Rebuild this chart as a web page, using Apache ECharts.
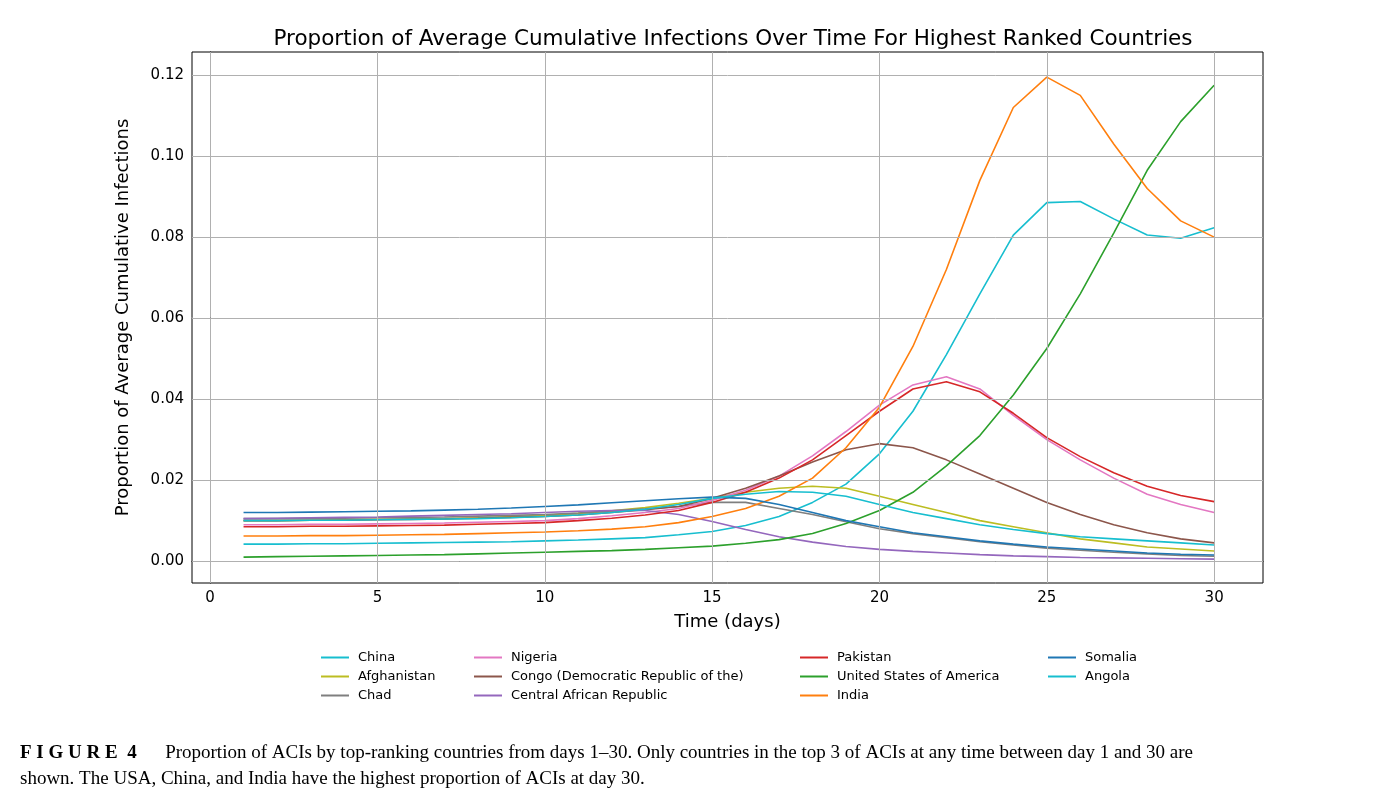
<!DOCTYPE html>
<html>
<head>
<meta charset="utf-8">
<title>ACI proportion</title>
<script src="https://cdn.jsdelivr.net/npm/echarts@6/dist/echarts.min.js"></script>
<style>
html, body { margin:0; height:100%; background:#fff; overflow:hidden; }
#main { width:1386px; height:798px; }
</style>
</head>
<body>
<div id="main"></div>
<script>
var days = [];
for (var d = 1; d <= 30; d++) days.push(d);

var china       = [0.0042,0.0042,0.0043,0.0043,0.0044,0.0045,0.0046,0.0047,0.0048,0.0050,0.0052,0.0055,0.0058,0.0065,0.0073,0.0088,0.0110,0.0145,0.0190,0.0265,0.0370,0.0510,0.0660,0.0805,0.0885,0.0888,0.0845,0.0805,0.0797,0.0823];
var afghanistan = [0.0100,0.0100,0.0101,0.0102,0.0103,0.0104,0.0105,0.0107,0.0110,0.0113,0.0118,0.0124,0.0132,0.0143,0.0155,0.0170,0.0180,0.0185,0.0180,0.0160,0.0140,0.0120,0.0100,0.0085,0.0070,0.0055,0.0045,0.0035,0.0030,0.0025];
var chad        = [0.0105,0.0105,0.0106,0.0106,0.0107,0.0108,0.0109,0.0111,0.0113,0.0115,0.0119,0.0124,0.0129,0.0135,0.0145,0.0145,0.0130,0.0115,0.0097,0.0080,0.0068,0.0058,0.0048,0.0040,0.0032,0.0027,0.0022,0.0018,0.0014,0.0012];
var nigeria     = [0.0090,0.0090,0.0091,0.0091,0.0092,0.0093,0.0094,0.0096,0.0098,0.0100,0.0105,0.0112,0.0120,0.0130,0.0150,0.0175,0.0210,0.0260,0.0320,0.0385,0.0435,0.0455,0.0425,0.0360,0.0300,0.0250,0.0205,0.0165,0.0140,0.0120];
var congo       = [0.0100,0.0100,0.0101,0.0101,0.0102,0.0103,0.0104,0.0106,0.0108,0.0110,0.0114,0.0120,0.0127,0.0135,0.0155,0.0180,0.0210,0.0245,0.0275,0.0290,0.0280,0.0250,0.0215,0.0180,0.0145,0.0115,0.0090,0.0070,0.0055,0.0045];
var car         = [0.0105,0.0106,0.0107,0.0108,0.0109,0.0111,0.0113,0.0115,0.0117,0.0120,0.0123,0.0125,0.0125,0.0115,0.0098,0.0078,0.0060,0.0047,0.0036,0.0029,0.0024,0.0020,0.0016,0.0013,0.0011,0.0009,0.0008,0.0007,0.0006,0.0005];
var pakistan    = [0.0085,0.0085,0.0086,0.0086,0.0087,0.0088,0.0089,0.0091,0.0093,0.0095,0.0100,0.0106,0.0114,0.0125,0.0145,0.0170,0.0205,0.0250,0.0310,0.0370,0.0425,0.0443,0.0418,0.0365,0.0305,0.0258,0.0218,0.0185,0.0162,0.0147];
var usa         = [0.0010,0.0011,0.0012,0.0013,0.0014,0.0015,0.0016,0.0018,0.0020,0.0022,0.0024,0.0026,0.0029,0.0033,0.0037,0.0044,0.0053,0.0068,0.0093,0.0125,0.0170,0.0235,0.0310,0.0410,0.0525,0.0660,0.0810,0.0965,0.1085,0.1175];
var india       = [0.0062,0.0062,0.0063,0.0063,0.0064,0.0065,0.0066,0.0068,0.0070,0.0072,0.0075,0.0079,0.0085,0.0095,0.0110,0.0130,0.0160,0.0205,0.0280,0.0380,0.0530,0.0720,0.0940,0.1120,0.1195,0.1150,0.1030,0.0920,0.0840,0.0800];
var somalia     = [0.0120,0.0120,0.0121,0.0122,0.0123,0.0124,0.0126,0.0128,0.0131,0.0135,0.0139,0.0144,0.0149,0.0154,0.0158,0.0155,0.0140,0.0120,0.0100,0.0085,0.0070,0.0060,0.0050,0.0042,0.0035,0.0030,0.0025,0.0020,0.0017,0.0015];
var angola      = [0.0100,0.0100,0.0101,0.0101,0.0102,0.0103,0.0104,0.0105,0.0107,0.0110,0.0114,0.0120,0.0128,0.0140,0.0155,0.0165,0.0172,0.0170,0.0160,0.0140,0.0120,0.0105,0.0090,0.0078,0.0068,0.0060,0.0055,0.0050,0.0045,0.0040];

var xTicks = [0, 5, 10, 15, 20, 25, 30];
var yTicks = [0, 0.02, 0.04, 0.06, 0.08, 0.10, 0.12];

var countries = [
  ['China', china, '#17becf'],
  ['Afghanistan', afghanistan, '#bcbd22'],
  ['Chad', chad, '#7f7f7f'],
  ['Nigeria', nigeria, '#e377c2'],
  ['Congo (Democratic Republic of the)', congo, '#8c564b'],
  ['Central African Republic', car, '#9467bd'],
  ['Pakistan', pakistan, '#d62728'],
  ['United States of America', usa, '#2ca02c'],
  ['India', india, '#ff7f0e'],
  ['Somalia', somalia, '#1f77b4'],
  ['Angola', angola, '#17becf']
];

var series = [{
  type: 'line', data: [], silent: true,
  markLine: {
    symbol: 'none', silent: true, label: { show: false }, animation: false,
    lineStyle: { color: '#b0b0b0', width: 1, type: 'solid' },
    data: xTicks.map(function (v) { return { xAxis: v }; })
      .concat(yTicks.map(function (v) { return { yAxis: v }; }))
  }
}];
countries.forEach(function (c) {
  series.push({
    name: c[0], type: 'line', showSymbol: false, symbol: 'none',
    data: days.map(function (d, i) { return [d, c[1][i]]; }),
    lineStyle: { width: 1.6, color: c[2] }, itemStyle: { color: c[2] }
  });
});

function leg(names, left) {
  return {
    orient: 'vertical', left: left, top: 646, itemGap: 6,
    itemWidth: 28, itemHeight: 2, icon: 'rect',
    textStyle: { fontFamily: 'DejaVu Sans', fontSize: 13, color: '#000', padding: [0, 0, 0, 4] },
    data: names
  };
}

var chart = echarts.init(document.getElementById('main'));
chart.setOption({
  animation: false,
  textStyle: { fontFamily: 'DejaVu Sans' },
  title: {
    text: 'Proportion of Average Cumulative Infections Over Time For Highest Ranked Countries',
    left: 728, top: 23, textAlign: 'center',
    textStyle: { fontSize: 21.5, fontWeight: 'normal', color: '#000' }
  },
  legend: [
    leg(['China', 'Afghanistan', 'Chad'], 316),
    leg(['Nigeria', 'Congo (Democratic Republic of the)', 'Central African Republic'], 469),
    leg(['Pakistan', 'United States of America', 'India'], 795),
    leg(['Somalia', 'Angola'], 1043)
  ],
  grid: { left: 192, top: 52, width: 1071, height: 531, show: true, borderColor: '#000', borderWidth: 1 },
  xAxis: {
    type: 'value', min: -0.54, max: 31.46,
    name: 'Time (days)', nameLocation: 'middle', nameGap: 30,
    nameTextStyle: { fontSize: 18, color: '#000' },
    axisLine: { lineStyle: { color: '#000' } },
    axisTick: { customValues: xTicks, length: 5, lineStyle: { color: '#000' } },
    axisLabel: { customValues: xTicks, fontSize: 15, color: '#000', margin: 8 },
    splitLine: { show: false }
  },
  yAxis: {
    type: 'value', min: -0.0054, max: 0.1257,
    name: 'Proportion of Average Cumulative Infections', nameLocation: 'middle', nameGap: 60,
    nameTextStyle: { fontSize: 18, color: '#000' },
    axisLine: { show: true, lineStyle: { color: '#000' } },
    axisTick: { show: true, customValues: yTicks, length: 5, lineStyle: { color: '#000' } },
    axisLabel: { customValues: yTicks, fontSize: 15, color: '#000', margin: 8,
      formatter: function (v) { return v.toFixed(2); } },
    splitLine: { show: false }
  },
  graphic: [{
    type: 'text', left: 20, top: 740,
    style: {
      text: '{b|F I G U R E  4}      Proportion of ACIs by top-ranking countries from days 1\u201330. Only countries in the top 3 of ACIs at any time between day 1 and 30 are\nshown. The USA, China, and India have the highest proportion of ACIs at day 30.',
      font: '19px "Liberation Serif"', fill: '#000', lineHeight: 26,
      rich: { b: { font: 'bold 19px "Liberation Serif"', fill: '#000' } }
    }
  }],
  series: series
});
</script>
</body>
</html>
